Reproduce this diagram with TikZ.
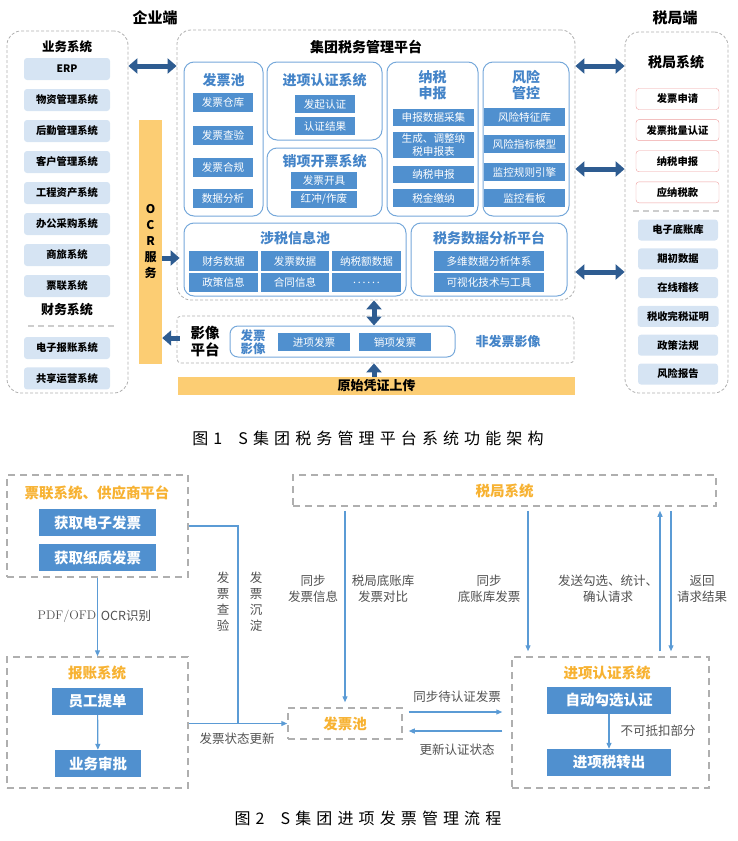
\documentclass[tikz,border=0pt]{standalone}
\usepackage{fontspec}
\setmainfont{Noto Sans CJK SC}
\newfontfamily\capfont{Noto Sans CJK SC}[LetterSpace=32]
\usepackage{tikz}
\usetikzlibrary{arrows.meta,positioning,calc}
\definecolor{DashGray}{RGB}{175,175,175}
\definecolor{SepGray}{RGB}{205,205,205}
\definecolor{PaleBlue}{RGB}{214,228,243}
\definecolor{ItemBlue}{RGB}{80,144,207}
\definecolor{SubLine}{RGB}{118,168,218}
\definecolor{TitleBlue}{RGB}{68,132,200}
\definecolor{ArrowBlue}{RGB}{46,92,145}
\definecolor{BarOrange}{RGB}{252,205,115}
\definecolor{PinkLine}{RGB}{238,160,160}
\definecolor{OrangeT}{RGB}{247,178,50}
\definecolor{LineBlue}{RGB}{91,155,213}
\definecolor{TxGray}{RGB}{80,80,80}
\newcommand{\fsz}[2][]{\fontsize{#2}{#2}\selectfont}
\newcommand{\fszl}[2]{\fontsize{#1}{#2}\selectfont}

\begin{document}
\begin{tikzpicture}[x=1pt,y=-1pt,
  grp/.style={draw=DashGray,dash pattern=on 3pt off 2pt,line width=0.8pt,rounded corners=14pt},
  sep/.style={draw=SepGray,dash pattern=on 6pt off 4pt,line width=1.6pt},
  lbox/.style={fill=PaleBlue,rounded corners=3pt,minimum width=86pt,minimum height=22pt,inner sep=0pt,font=\fsz{10.3}\bfseries},
  pbox/.style={draw=PinkLine,fill=white,rounded corners=3pt,minimum width=83pt,minimum height=21pt,inner sep=0pt,font=\fsz{10.3}\bfseries},
  bar/.style={fill=BarOrange,inner sep=0pt},
  sub/.style={draw=SubLine,line width=1pt,rounded corners=10pt,inner sep=0pt},
  subt/.style={text=TitleBlue,font=\fszl{14}{16}\bfseries,align=center},
  item/.style={fill=ItemBlue,text=white,inner sep=0pt,font=\fszl{10.6}{12.5},align=center},
  dbl/.style={draw=ArrowBlue,line width=5pt,{Triangle[width=15pt,length=9pt]}-{Triangle[width=15pt,length=9pt]}},
  sgl/.style={draw=ArrowBlue,line width=5pt,-{Triangle[width=15pt,length=9pt]}},
  grp2/.style={draw=DashGray,dash pattern=on 7pt off 5pt,line width=1.5pt,inner sep=0pt},
  bbox/.style={fill=ItemBlue,text=white,font=\fsz{14.5}\bfseries,inner sep=0pt,minimum height=27pt},
  otitle/.style={text=OrangeT,font=\fsz{14.5}\bfseries},
  flow/.style={draw=LineBlue,line width=1.2pt},
  flowar/.style={flow,-{Triangle[length=6pt,width=5pt]}},
  lab/.style={text=TxGray,font=\fszl{12.5}{16},align=center},
  capt/.style={font=\capfont\fsz{16}}
]
\useasboundingbox (0,0) rectangle (737,841);

% ---------- figure 1 : enterprise side ----------
\node[font=\fsz{15}\bfseries] (qyd) at (155,18) {企业端};
\node[grp,minimum width=121pt,minimum height=362pt] (ywgrp) at (67.5,212) {};
\node[font=\fsz{12.5}\bfseries] (ywxt) at (67,47) {业务系统};
\node[lbox] (erp) at (67,69) {ERP};
\node[lbox,below=8.6pt of erp] (wz) {物资管理系统};
\node[lbox,below=8.6pt of wz] (hq) {后勤管理系统};
\node[lbox,below=8.6pt of hq] (kh) {客户管理系统};
\node[lbox,below=8.6pt of kh] (gc) {工程资产系统};
\node[lbox,below=8.6pt of gc] (bg) {办公采购系统};
\node[lbox,below=8.6pt of bg] (sl) {商旅系统};
\node[lbox,below=8.6pt of sl] (pl) {票联系统};
\node[font=\fsz{13}\bfseries] (cwxt) at (67,310) {财务系统};
\draw[sep] (28,326) -- (115,326);
\node[lbox] (dzbz) at (67,348) {电子报账系统};
\node[lbox,below=8pt of dzbz] (gxyy) {共享运营系统};

\node[bar,minimum width=23pt,minimum height=244pt,align=center,font=\fszl{12}{16}\bfseries] (ocr) at (150.5,242) {O\\C\\R\\服\\务};

% ---------- figure 1 : platform ----------
\node[grp,minimum width=398pt,minimum height=270pt] (plat) at (376,165) {};
\node[font=\fsz{14}\bfseries] (platt) at (366,47) {集团税务管理平台};

\node[sub,minimum width=79pt,minimum height=154pt] (fpcbox) at (223.5,139) {};
\node[subt] (fpct) at (223.5,80) {发票池};
\node[item,minimum width=60pt,minimum height=19pt] (fp1) at (223,102) {发票仓库};
\node[item,minimum width=60pt,minimum height=19pt] (fp2) at (223,135) {发票查验};
\node[item,minimum width=60pt,minimum height=19pt] (fp3) at (223,167) {发票合规};
\node[item,minimum width=60pt,minimum height=19pt] (fp4) at (223,198) {数据分析};

\node[sub,minimum width=115pt,minimum height=78pt] (jxbox) at (324.5,101) {};
\node[subt] (jxt) at (324.5,80) {进项认证系统};
\node[item,minimum width=60pt,minimum height=18pt] (jx1) at (325,104) {发起认证};
\node[item,minimum width=60pt,minimum height=18pt] (jx2) at (325,126) {认证结果};

\node[sub,minimum width=115pt,minimum height=68pt] (xxbox) at (324.5,182) {};
\node[subt] (xxt) at (324.5,161) {销项开票系统};
\node[item,minimum width=66pt,minimum height=17pt] (xx1) at (324,180) {发票开具};
\node[item,minimum width=66pt,minimum height=17pt] (xx2) at (324,199) {红冲/作废};

\node[sub,minimum width=91pt,minimum height=154pt] (nsbox) at (432.5,139) {};
\node[subt] (nst) at (432.5,85) {纳税\\申报};
\node[item,minimum width=81pt,minimum height=17pt] (ns1) at (433.5,117) {申报数据采集};
\node[item,minimum width=81pt,minimum height=26pt] (ns2) at (433.5,145) {生成、调整纳\\税申报表};
\node[item,minimum width=81pt,minimum height=17pt] (ns3) at (433.5,174) {纳税申报};
\node[item,minimum width=81pt,minimum height=18pt] (ns4) at (433.5,198) {税金缴纳};

\node[sub,minimum width=86pt,minimum height=154pt] (fxbox) at (526,139) {};
\node[subt] (fxt) at (526,85) {风险\\管控};
\node[item,minimum width=81pt,minimum height=18pt] (fx1) at (524.5,117) {风险特征库};
\node[item,minimum width=81pt,minimum height=18pt] (fx2) at (524.5,144) {风险指标模型};
\node[item,minimum width=81pt,minimum height=18pt] (fx3) at (524.5,172) {监控规则引擎};
\node[item,minimum width=81pt,minimum height=18pt] (fx4) at (524.5,198) {监控看板};

\node[sub,minimum width=222pt,minimum height=73pt] (ssbox) at (295,259.5) {};
\node[subt] (sst) at (295,238) {涉税信息池};
\node[item,minimum width=69pt,minimum height=20pt] (ss1) at (223.5,261) {财务数据};
\node[item,minimum width=68pt,minimum height=20pt] (ss2) at (295,261) {发票数据};
\node[item,minimum width=69pt,minimum height=20pt] (ss3) at (366.5,261) {纳税额数据};
\node[item,minimum width=69pt,minimum height=19pt] (ss4) at (223.5,282.5) {政策信息};
\node[item,minimum width=68pt,minimum height=19pt] (ss5) at (295,282.5) {合同信息};
\node[item,minimum width=69pt,minimum height=19pt] (ss6) at (366.5,282.5) {.\,.\,.\,.\,.\,.};

\node[sub,minimum width=156pt,minimum height=73pt] (fxpt) at (489,259.5) {};
\node[subt] (fxptt) at (489,238) {税务数据分析平台};
\node[item,minimum width=110pt,minimum height=20pt] (fa1) at (489,261) {多维数据分析体系};
\node[item,minimum width=110pt,minimum height=19pt] (fa2) at (489,282.5) {可视化技术与工具};

% ---------- figure 1 : image platform ----------
\node[grp,rounded corners=4pt,minimum width=397pt,minimum height=47pt] (yxpt) at (375.5,339.5) {};
\node[font=\fszl{14.5}{17}\bfseries,align=center] (yxptt) at (205,341) {影像\\平台};
\node[sub,rounded corners=8pt,minimum width=225pt,minimum height=31pt] (fpyx) at (342.5,341.5) {};
\node[text=TitleBlue,font=\fszl{12.5}{13}\bfseries,align=center] (fpyxt) at (253,342.5) {发票\\影像};
\node[item,minimum width=72pt,minimum height=18pt] (yx1) at (314,342) {进项发票};
\node[item,minimum width=72pt,minimum height=18pt] (yx2) at (395,342) {销项发票};
\node[text=TitleBlue,font=\fsz{13}\bfseries] (ffpyx) at (508,342) {非发票影像};
\node[bar,minimum width=397pt,minimum height=18pt,font=\fsz{13}\bfseries] (yscz) at (376.5,386) {原始凭证上传};

% ---------- figure 1 : tax bureau side ----------
\node[font=\fsz{15}\bfseries] (sjd) at (675,18) {税局端};
\node[grp,minimum width=103pt,minimum height=361pt] (sjgrp) at (676.5,212.5) {};
\node[font=\fsz{14}\bfseries] (sjxt) at (676,62) {税局系统};
\node[pbox] (fpsq) at (677.5,99) {发票申请};
\node[pbox,below=9.7pt of fpsq] (plrz) {发票批量认证};
\node[pbox,below=9.7pt of plrz] (nssb) {纳税申报};
\node[pbox,below=9.7pt of nssb] (ynsk) {应纳税款};
\draw[sep] (633,211) -- (720,211);
\node[lbox,minimum width=80pt,minimum height=21pt] (dzk) at (678,230) {电子底账库};
\node[lbox,minimum width=80pt,minimum height=21pt,below=7.4pt of dzk] (qcsj) {期初数据};
\node[lbox,minimum width=80pt,minimum height=21pt,below=7.4pt of qcsj] (zxjh) {在线稽核};
\node[lbox,minimum width=81pt,minimum height=21pt,below=7.4pt of zxjh] (wszm) {税收完税证明};
\node[lbox,minimum width=80pt,minimum height=21pt,below=7.4pt of wszm] (zcfg) {政策法规};
\node[lbox,minimum width=80pt,minimum height=21pt,below=7.4pt of zcfg] (fxbg) {风险报告};

% ---------- figure 1 : arrows ----------
\coordinate (r1) at (0,66);
\coordinate (r2) at (0,169);
\coordinate (r3) at (0,272);
\coordinate (r4) at (0,258);
\coordinate (r5) at (0,338);
\coordinate (cx) at (374,0);
\draw[dbl] (ywgrp.east |- r1) -- (plat.west |- r1);
\draw[dbl] (plat.east |- r1) -- (sjgrp.west |- r1);
\draw[dbl] (plat.east |- r2) -- (sjgrp.west |- r2);
\draw[dbl] (plat.east |- r3) -- (sjgrp.west |- r3);
\draw[sgl,shorten >=-3pt] (ocr.east |- r4) -- (plat.west |- r4);
\draw[sgl,shorten <=-3pt] (yxpt.west |- r5) -- (ocr.east |- r5);
\draw[dbl] (plat.south -| cx) -- (fpyx.north -| cx);
\draw[sgl] (yscz.north -| cx) -- (yxpt.south -| cx);

\node[capt] (cap1) at (368,438) {图1\quad S集团税务管理平台系统功能架构};

% ---------- figure 2 ----------
\node[grp2,minimum width=181pt,minimum height=102pt] (plgy) at (97.5,526) {};
\node[otitle] (plgyt) at (97,493) {票联系统、供应商平台};
\node[bbox,minimum width=117pt] (hq1) at (97.5,522.5) {获取电子发票};
\node[bbox,minimum width=117pt] (hq2) at (97.5,557.5) {获取纸质发票};

\node[grp2,minimum width=181pt,minimum height=131pt] (bzxt) at (97.5,722.5) {};
\node[otitle] (bzxtt) at (97,673) {报账系统};
\node[bbox,minimum width=91pt] (ygtd) at (97.5,701.5) {员工提单};
\node[bbox,minimum width=86pt] (ywsp) at (98,763.5) {业务审批};

\node[grp2,minimum width=423pt,minimum height=31pt,otitle] (sjxt2) at (504.5,490.5) {税局系统};
\node[grp2,minimum width=114pt,minimum height=31pt,otitle] (fpc2) at (345,723.5) {发票池};

\node[grp2,minimum width=197pt,minimum height=131pt] (jxrz) at (610.5,722.5) {};
\node[otitle] (jxrzt) at (607,673) {进项认证系统};
\node[bbox,minimum width=124pt] (zdgx) at (609,700.5) {自动勾选认证};
\node[bbox,minimum width=124pt] (jxzc) at (609,762.5) {进项税转出};

% connectors
\coordinate (jn) at (238,0);
\coordinate (c2) at (528,0);
\coordinate (c3) at (660,0);
\coordinate (c4) at (671,0);
\coordinate (h1) at (0,712);
\coordinate (h2) at (0,731);
\draw[flowar] (plgy.south -| hq1) -- (bzxt.north -| hq1);
\draw[flowar] (ygtd) -- (ywsp);
\draw[flow] (plgy.east) -| (jn |- fpc2);
\draw[flowar] (bzxt.east |- fpc2) -- (fpc2.west);
\draw[flowar,shorten <=4pt,shorten >=5pt] (sjxt2.south -| fpc2) -- (fpc2.north);
\draw[flowar,shorten <=4pt,shorten >=5pt] (sjxt2.south -| c2) -- (jxrz.north -| c2);
\draw[flowar,shorten <=5pt,shorten >=4pt] (jxrz.north -| c3) -- (sjxt2.south -| c3);
\draw[flowar,shorten <=4pt,shorten >=5pt] (sjxt2.south -| c4) -- (jxrz.north -| c4);
\draw[flowar,shorten <=6pt,shorten >=9pt] (fpc2.east |- h1) -- (jxrz.west |- h1);
\draw[flowar,shorten <=9pt,shorten >=6pt] (jxrz.west |- h2) -- (fpc2.east |- h2);
\draw[flowar] (zdgx) -- (jxzc);

% labels
\node[lab,font=\fontfamily{lmr}\selectfont\fsz{12.5}] (lpdf) at (67,616) {PDF/OFD};
\node[lab] (locr) at (126,616) {OCR识别};
\node[lab] (lcy) at (223,602) {发\\票\\查\\验};
\node[lab] (lcd) at (256,602) {发\\票\\沉\\淀};
\node[lab] (lzt) at (237,739) {发票状态更新};
\node[lab] (ltb1) at (313,589) {同步\\发票信息};
\node[lab] (ldb) at (383,589) {税局底账库\\发票对比};
\node[lab] (ltb2) at (489,589) {同步\\底账库发票};
\node[lab] (lfs) at (608,589) {发送勾选、统计、\\确认请求};
\node[lab] (lfh) at (702,589) {返回\\请求结果};
\node[lab] (ldrz) at (457,697) {同步待认证发票};
\node[lab] (lgx) at (457,750) {更新认证状态};
\node[lab] (lbk) at (658,731) {不可抵扣部分};

\node[capt] (cap2) at (368,818) {图2\quad S集团进项发票管理流程};
\end{tikzpicture}
\end{document}
